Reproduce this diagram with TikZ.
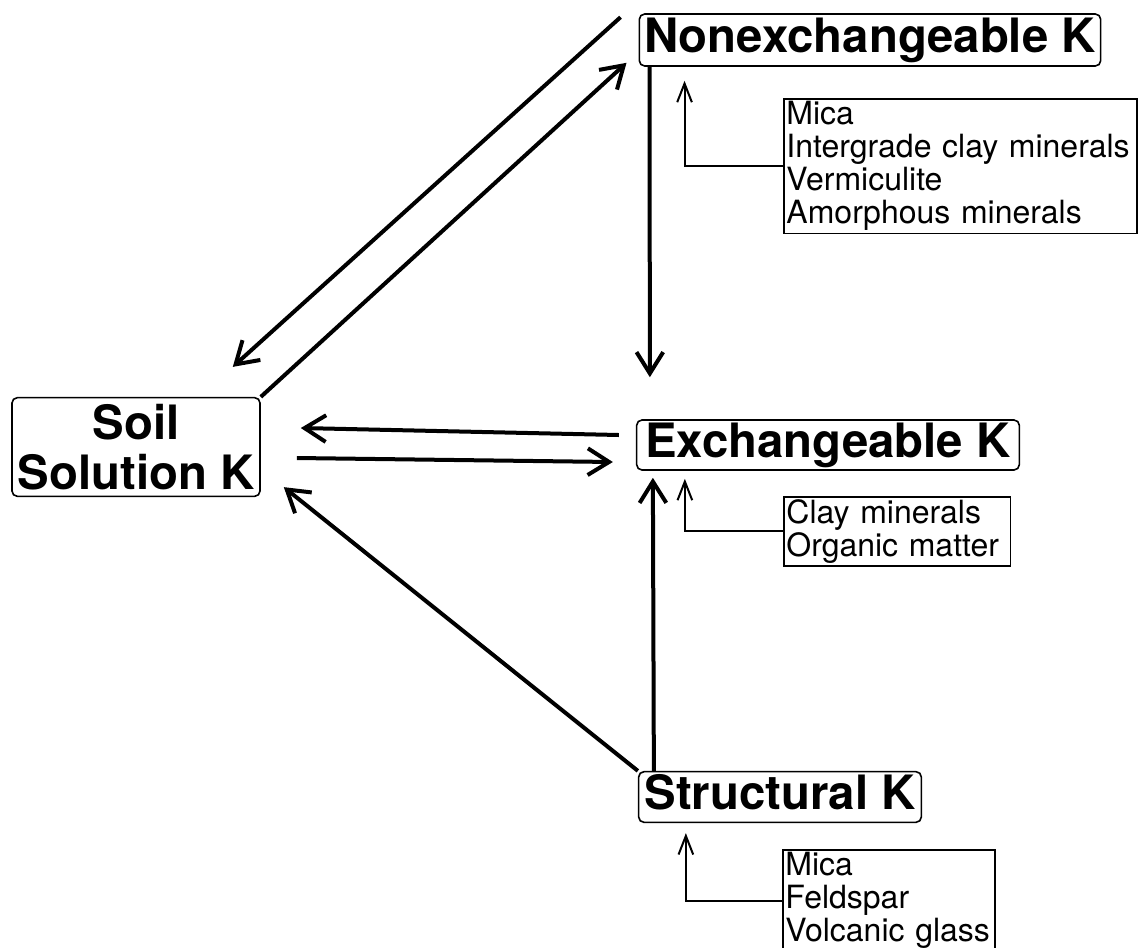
\documentclass[tikz,border=0pt]{standalone}
\usepackage{fontspec}
\setmainfont{TeX Gyre Heros}
\usetikzlibrary{arrows.meta}

\begin{document}
\begin{tikzpicture}[x=0.75pt,y=-0.75pt]

        \useasboundingbox (0,0) rectangle (1139,947);

        % pools
        \begin{scope}[every node/.style={draw, rounded corners=4pt, line width=1.2pt, inner sep=0pt,
            font=\fontsize{35.5}{37}\selectfont\bfseries, text height=26pt, text depth=7.5pt}]
          \node[minimum width=346pt, minimum height=39pt]   (1) at (870,40)  {Nonexchangeable K};
          \node[minimum width=287pt, minimum height=37.5pt] (2) at (828,445) {Exchangeable K};
          \node[minimum width=212pt, minimum height=38pt]   (3) at (780,797) {Structural K};
          \node[minimum width=186pt, minimum height=74pt, align=center,
                text height=, text depth=]                  (4) at (136,447) {Soil\\Solution K};
        \end{scope}

        % sources
        \begin{scope}[every node/.style={draw, line width=1.2pt, anchor=north west, inner sep=2pt,
            align=left, font=\fontsize{24}{24.75}\selectfont}]
          \node[text width=261pt] (5) at (783,98)  {Mica\\Intergrade clay minerals\\Vermiculite\\Amorphous minerals};
          \node[text width=166pt] (6) at (783,496) {Clay minerals\\Organic matter};
          \node[text width=155pt] (7) at (782,849) {Mica\\Feldspar\\Volcanic glass};
        \end{scope}

        \begin{scope}[every edge/.style={draw, line width=3pt, -{Straight Barb[length=16pt,width=20pt]}}]
          \path (4.north east) edge ([shift={(-12,-4)}]1.south west);
          \path ([shift={(-18,4)}]1.north west) edge ([shift={(-28,-30)}]4.north east);
          \path ([shift={(11,0)}]1.south west) edge ([shift={(14,-42)}]2.north west);
          \path ([shift={(-17,-10)}]2.west) edge ([shift={(40,-19)}]4.east);
          \path ([shift={(36,11)}]4.east) edge ([shift={(-23,17)}]2.west);
          \path (3.north west) edge ([shift={(23,-10)}]4.south east);
          \path ([shift={(16,0)}]3.north west) edge ([shift={(17,7)}]2.south west);
        \end{scope}

        \begin{scope}[line width=1.5pt, -{Straight Barb[length=14pt,width=11pt]}]
          \draw (5.west) -| ([shift={(46,14)}]1.south west);
          \draw (6.west) -| ([shift={(49,8)}]2.south west);
          \draw (7.west) -| ([shift={(48,10)}]3.south west);
        \end{scope}

      \end{tikzpicture}
\end{document}
